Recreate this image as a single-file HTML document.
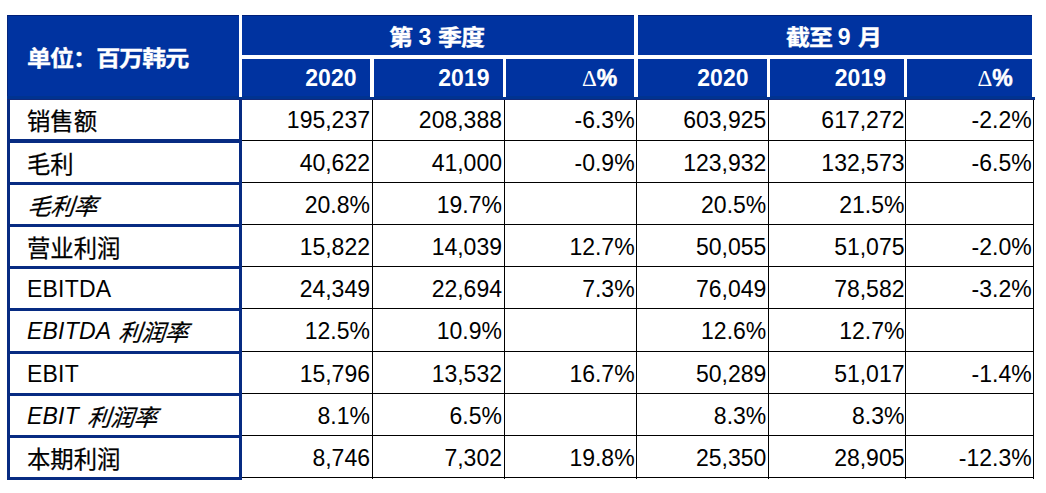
<!DOCTYPE html>
<html lang="zh-CN"><head><meta charset="utf-8"><title>table</title>
<style>
html,body{margin:0;padding:0;background:#fff;}
body{width:1046px;height:493px;position:relative;overflow:hidden;font-family:"Liberation Sans","Noto Sans CJK SC",sans-serif;font-size:23px;color:#000;}
.t{position:absolute;white-space:pre;line-height:30px;height:30px;}
.z{font-size:23.33px;font-weight:400;-webkit-text-stroke:0.25px #000;}
.a{font-size:23px;position:relative;top:-2px;}
.l{letter-spacing:0.2px;}
.h{color:#fff;font-weight:bold;}
.h .z{font-weight:bold;display:inline-block;transform:scale(1.03,0.925);transform-origin:0 50%;letter-spacing:-0.95px;-webkit-text-stroke:0.35px #fff;}
.n{text-align:right;width:140px;}
.i{font-style:italic;}
.i .z{font-style:normal;display:inline-block;transform:skewX(-19deg);transform-origin:0 25px;}
.p{-webkit-text-stroke:0.5px #fff;}
.d{font-family:"Liberation Serif","DejaVu Serif",serif;font-weight:normal;}
</style></head><body>

<svg width="1046" height="493" viewBox="0 0 1046 493" style="position:absolute;left:0;top:0" shape-rendering="crispEdges">
<rect x="7" y="15" width="1025" height="85" fill="#0033a0"/>
<rect x="7" y="15" width="1025" height="1" fill="#001f78"/>
<rect x="7" y="15" width="1" height="85" fill="#04267c"/>
<rect x="7" y="96" width="1025" height="3" fill="#003390"/>
<rect x="1032" y="97" width="3" height="2" fill="#003390"/>
<rect x="7" y="99" width="1028" height="1" fill="#12297a"/>
<rect x="239" y="15" width="3" height="82" fill="#fff"/>
<rect x="242" y="55" width="790" height="4" fill="#fff"/>
<rect x="634" y="15" width="4" height="82" fill="#fff"/>
<rect x="370" y="59" width="4" height="38" fill="#fff"/>
<rect x="503" y="59" width="3" height="38" fill="#fff"/>
<rect x="767" y="59" width="3" height="38" fill="#fff"/>
<rect x="904" y="59" width="3" height="38" fill="#fff"/>
<rect x="7" y="100" width="3" height="380" fill="#072b82"/>
<rect x="239" y="100" width="3" height="380" fill="#072b82"/>
<rect x="7" y="139" width="235" height="4" fill="#072b82"/>
<rect x="242" y="140" width="792" height="1" fill="#000"/>
<rect x="7" y="182" width="235" height="3" fill="#072b82"/>
<rect x="242" y="182" width="792" height="1" fill="#000"/>
<rect x="7" y="224" width="235" height="3" fill="#072b82"/>
<rect x="242" y="224" width="792" height="1" fill="#000"/>
<rect x="7" y="266" width="235" height="3" fill="#072b82"/>
<rect x="242" y="266" width="792" height="1" fill="#000"/>
<rect x="7" y="308" width="235" height="3" fill="#072b82"/>
<rect x="242" y="308" width="792" height="1" fill="#000"/>
<rect x="7" y="351" width="235" height="3" fill="#072b82"/>
<rect x="242" y="351" width="792" height="1" fill="#000"/>
<rect x="7" y="393" width="235" height="3" fill="#072b82"/>
<rect x="242" y="393" width="792" height="1" fill="#000"/>
<rect x="7" y="435" width="235" height="3" fill="#072b82"/>
<rect x="242" y="435" width="792" height="1" fill="#000"/>
<rect x="7" y="477" width="235" height="3" fill="#072b82"/>
<rect x="242" y="477" width="792" height="1" fill="#000"/>
<rect x="372" y="100" width="1" height="379" fill="#000"/>
<rect x="504" y="100" width="1" height="379" fill="#000"/>
<rect x="636" y="100" width="1" height="379" fill="#000"/>
<rect x="768" y="100" width="1" height="379" fill="#000"/>
<rect x="905" y="100" width="1" height="379" fill="#000"/>
<rect x="1033" y="100" width="1" height="379" fill="#000"/>
</svg>
<div class="t h" style="left:26.5px;top:44px"><span class="z">单位：百万韩元</span></div>
<div class="t h" style="left:389px;top:23px;word-spacing:0.6px"><span class="z">第</span><span class="a" style="top:-1px"> 3 </span><span class="z">季度</span></div>
<div class="t h" style="left:785.5px;top:23px;word-spacing:1.2px"><span class="z">截至</span><span class="a" style="top:-1px"> 9 </span><span class="z">月</span></div>
<div class="t h n" style="left:216.5px;top:63px">2020</div>
<div class="t h n" style="left:349.5px;top:63px">2019</div>
<div class="t h n" style="left:477.20000000000005px;top:63px"><span class="d">Δ</span><span class="p">%</span></div>
<div class="t h n" style="left:608.5px;top:63px">2020</div>
<div class="t h n" style="left:746px;top:63px">2019</div>
<div class="t h n" style="left:872.8px;top:63px"><span class="d">Δ</span><span class="p">%</span></div>
<div class="t" style="left:27px;top:106.5px"><span class="z">销售额</span></div>
<div class="t n" style="left:230px;top:104.5px">195,237</div>
<div class="t n" style="left:362px;top:104.5px">208,388</div>
<div class="t n" style="left:494.6px;top:104.5px">-6.3%</div>
<div class="t n" style="left:626.3px;top:104.5px">603,925</div>
<div class="t n" style="left:764.5px;top:104.5px">617,272</div>
<div class="t n" style="left:891.7px;top:104.5px">-2.2%</div>
<div class="t" style="left:27px;top:149.5px"><span class="z">毛利</span></div>
<div class="t n" style="left:230px;top:147.5px">40,622</div>
<div class="t n" style="left:362px;top:147.5px">41,000</div>
<div class="t n" style="left:494.6px;top:147.5px">-0.9%</div>
<div class="t n" style="left:626.3px;top:147.5px">123,932</div>
<div class="t n" style="left:764.5px;top:147.5px">132,573</div>
<div class="t n" style="left:891.7px;top:147.5px">-6.5%</div>
<div class="t i" style="left:26px;top:191.5px"><span class="z">毛利率</span></div>
<div class="t n" style="left:230px;top:189.5px">20.8%</div>
<div class="t n" style="left:362px;top:189.5px">19.7%</div>
<div class="t n" style="left:626.3px;top:189.5px">20.5%</div>
<div class="t n" style="left:764.5px;top:189.5px">21.5%</div>
<div class="t" style="left:27px;top:233.5px"><span class="z">营业利润</span></div>
<div class="t n" style="left:230px;top:231.5px">15,822</div>
<div class="t n" style="left:362px;top:231.5px">14,039</div>
<div class="t n" style="left:494.6px;top:231.5px">12.7%</div>
<div class="t n" style="left:626.3px;top:231.5px">50,055</div>
<div class="t n" style="left:764.5px;top:231.5px">51,075</div>
<div class="t n" style="left:891.7px;top:231.5px">-2.0%</div>
<div class="t" style="left:27px;top:275.5px"><span class="a l">EBITDA</span></div>
<div class="t n" style="left:230px;top:273.5px">24,349</div>
<div class="t n" style="left:362px;top:273.5px">22,694</div>
<div class="t n" style="left:494.6px;top:273.5px">7.3%</div>
<div class="t n" style="left:626.3px;top:273.5px">76,049</div>
<div class="t n" style="left:764.5px;top:273.5px">78,582</div>
<div class="t n" style="left:891.7px;top:273.5px">-3.2%</div>
<div class="t i" style="left:27px;top:317.5px"><span class="a l">EBITDA </span><span class="z">利润率</span></div>
<div class="t n" style="left:230px;top:315.5px">12.5%</div>
<div class="t n" style="left:362px;top:315.5px">10.9%</div>
<div class="t n" style="left:626.3px;top:315.5px">12.6%</div>
<div class="t n" style="left:764.5px;top:315.5px">12.7%</div>
<div class="t" style="left:27px;top:360.5px"><span class="a l">EBIT</span></div>
<div class="t n" style="left:230px;top:358.5px">15,796</div>
<div class="t n" style="left:362px;top:358.5px">13,532</div>
<div class="t n" style="left:494.6px;top:358.5px">16.7%</div>
<div class="t n" style="left:626.3px;top:358.5px">50,289</div>
<div class="t n" style="left:764.5px;top:358.5px">51,017</div>
<div class="t n" style="left:891.7px;top:358.5px">-1.4%</div>
<div class="t i" style="left:27px;top:402.5px"><span class="a l">EBIT </span><span class="z">利润率</span></div>
<div class="t n" style="left:230px;top:400.5px">8.1%</div>
<div class="t n" style="left:362px;top:400.5px">6.5%</div>
<div class="t n" style="left:626.3px;top:400.5px">8.3%</div>
<div class="t n" style="left:764.5px;top:400.5px">8.3%</div>
<div class="t" style="left:27px;top:444.5px"><span class="z">本期利润</span></div>
<div class="t n" style="left:230px;top:442.5px">8,746</div>
<div class="t n" style="left:362px;top:442.5px">7,302</div>
<div class="t n" style="left:494.6px;top:442.5px">19.8%</div>
<div class="t n" style="left:626.3px;top:442.5px">25,350</div>
<div class="t n" style="left:764.5px;top:442.5px">28,905</div>
<div class="t n" style="left:891.7px;top:442.5px">-12.3%</div>
</body></html>
